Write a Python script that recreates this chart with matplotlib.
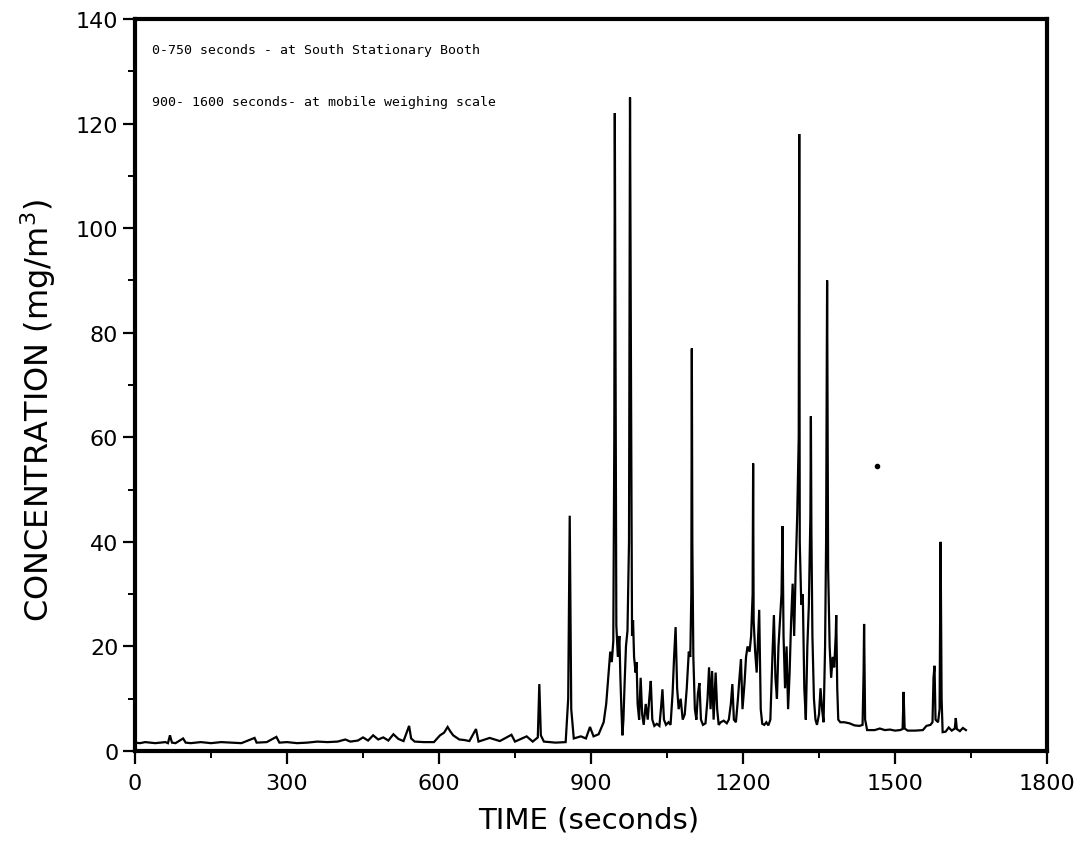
import matplotlib
matplotlib.use("Agg")
import matplotlib.pyplot as plt
from matplotlib.ticker import MultipleLocator

# ---- data (time in s, concentration in mg/m3) ----
time_s = [
    0, 10, 20, 30, 40, 50, 60, 65, 69, 73, 80, 95, 100, 110, 130, 150, 170, 190, 210, 236,
    240, 260, 279, 285, 300, 320, 340, 360, 380, 400, 415, 425, 440, 450, 460, 470, 480, 490,
    500, 510, 520, 530, 541, 545, 552, 570, 590, 602, 610, 617, 622, 628, 640, 650, 660, 673,
    678, 700, 720, 743, 750, 773, 785, 795, 798, 801, 807, 830, 850, 855, 858, 861, 866, 880,
    890, 898, 905, 915, 925, 930, 934, 938, 941, 944, 946, 947, 948, 950, 953, 956, 958, 960,
    962, 964, 966, 969, 972, 975, 977, 979, 981, 983, 985, 988, 990, 992, 995, 998, 1001, 1004,
    1008, 1012, 1015, 1018, 1021, 1025, 1030, 1035, 1038, 1041, 1044, 1048, 1053, 1057, 1061,
    1064, 1067, 1070, 1073, 1077, 1081, 1085, 1089, 1093, 1096, 1098, 1099, 1100, 1102, 1105,
    1108, 1111, 1114, 1117, 1121, 1126, 1130, 1133, 1136, 1139, 1142, 1146, 1149, 1152, 1156,
    1162, 1168, 1172, 1176, 1179, 1182, 1186, 1190, 1193, 1196, 1199, 1203, 1206, 1209, 1213,
    1216, 1219, 1220, 1221, 1224, 1227, 1230, 1232, 1235, 1238, 1242, 1246, 1250, 1254, 1258,
    1261, 1264, 1267, 1270, 1273, 1276, 1278, 1280, 1283, 1286, 1289, 1292, 1295, 1298, 1301,
    1304, 1307, 1310, 1311, 1312, 1315, 1318, 1321, 1324, 1327, 1330, 1333, 1334, 1335, 1337,
    1340, 1343, 1346, 1350, 1353, 1356, 1359, 1362, 1364, 1366, 1368, 1371, 1374, 1377, 1380,
    1383, 1384, 1386, 1388, 1392, 1400, 1410, 1420, 1430, 1436, 1438, 1439, 1441, 1445, 1460,
    1470, 1480, 1490, 1500, 1510, 1515, 1517, 1519, 1525, 1540, 1555, 1562, 1570, 1574, 1576,
    1578, 1580, 1585, 1588, 1590, 1592, 1594, 1600, 1606, 1612, 1618, 1620, 1622, 1628, 1634,
    1640,
]
conc = [
    1.6, 1.5, 1.7, 1.6, 1.5, 1.6, 1.7, 1.5, 3.0, 1.6, 1.5, 2.4, 1.6, 1.5, 1.7, 1.5, 1.7, 1.6, 1.5, 2.5,
    1.6, 1.7, 2.7, 1.6, 1.7, 1.5, 1.6, 1.8, 1.7, 1.8, 2.2, 1.8, 2.0, 2.6, 2.0, 3.0, 2.2, 2.6,
    2.0, 3.2, 2.3, 1.9, 4.8, 2.4, 1.8, 1.7, 1.7, 3.0, 3.5, 4.6, 3.8, 3.0, 2.2, 2.1, 1.9, 4.2,
    1.8, 2.5, 1.9, 3.1, 1.8, 2.8, 1.8, 2.6, 12.8, 3.0, 1.8, 1.6, 1.7, 10, 45, 8, 2.4, 2.8,
    2.4, 4.6, 2.8, 3.2, 5.5, 9, 14, 19, 17, 21, 60, 122, 90, 24, 18, 22, 14, 8,
    3.0, 6, 12, 20, 23, 40, 125, 70, 22, 25, 18, 15, 17, 9, 6, 14, 7, 5,
    9, 6, 10, 13.4, 6, 4.8, 5.2, 4.8, 8, 11.8, 6, 5, 5.5, 5, 11,
    18, 23.7, 12, 8, 10, 6, 7, 12, 19, 18, 30, 77, 40, 18, 8,
    6, 11, 13, 6, 5, 5.3, 10, 16, 8, 15.3, 6, 15, 8, 5, 5.5,
    5.8, 5.3, 6, 9, 12.8, 6, 5.5, 10, 14, 17.5, 8, 13, 18, 20, 19,
    22, 30, 55, 25, 19, 15, 22, 27, 8, 5.2, 5, 5.5, 4.9, 6, 18,
    26, 14, 10, 20, 25, 30, 43, 22, 12, 20, 8, 15, 25, 32, 22,
    35, 45, 60, 118, 40, 28, 30, 12, 6, 20, 28, 45, 64, 42, 22,
    10, 6, 5, 7, 12, 8, 5.5, 20, 40, 90, 35, 20, 14, 18, 16,
    22, 26, 12, 6, 5.5, 5.5, 5.3, 4.9, 4.8, 5.0, 15, 24.3, 6, 4.0, 4.0,
    4.3, 4.0, 4.1, 3.9, 4.0, 4.2, 11.3, 4.3, 3.9, 3.9, 4.0, 4.8, 5.0, 5.5, 14,
    16.3, 6, 5.5, 8, 40, 10, 3.6, 3.7, 4.5, 3.9, 4.3, 6.3, 4.2, 3.8, 4.4,
    4.0,
]
stray_time = [1464]
stray_conc = [54.5]

x_ticks = [0, 300, 600, 900, 1200, 1500, 1800]
y_ticks = [0, 20, 40, 60, 80, 100, 120, 140]
note_lines = ["0-750 seconds - at South Stationary Booth",
              "900- 1600 seconds- at mobile weighing scale"]

W, H = 1080, 845
fig = plt.figure(figsize=(W / 100, H / 100), dpi=100)
ax = fig.add_axes([135 / W, 93 / H, 912 / W, 732 / H])

ax.plot(time_s, conc, color="black", linewidth=1.6, solid_joinstyle="miter")
ax.plot(stray_time, stray_conc, "o", color="black", markersize=3)

ax.set_xlim(0, 1800)
ax.set_ylim(0, 140)
ax.set_xticks(x_ticks)
ax.set_yticks(y_ticks)
ax.set_xticklabels([str(v) for v in x_ticks])
ax.set_yticklabels([str(v) for v in y_ticks])
ax.xaxis.set_minor_locator(MultipleLocator(150))
ax.yaxis.set_minor_locator(MultipleLocator(10))
ax.tick_params(which="major", direction="out", length=9, width=1.6, labelsize=16)
ax.tick_params(axis="x", which="major", pad=7)
ax.tick_params(axis="y", which="major", pad=3)
ax.tick_params(which="minor", direction="out", length=5, width=1.4)
for s in ax.spines.values():
    s.set_linewidth(3)

ax.set_xlabel("TIME (seconds)", fontsize=21)
ax.set_ylabel("CONCENTRATION (mg/m$^3$)", fontsize=23)
ax.xaxis.set_label_coords(0.497, -0.074)
ax.yaxis.set_label_coords(-0.084, 0.467)

ax.text(34, 134.2, note_lines[0], family="DejaVu Sans Mono", fontsize=9.5, va="center", ha="left")
ax.text(34, 124.3, note_lines[1], family="DejaVu Sans Mono", fontsize=9.5, va="center", ha="left")

fig.savefig("out.png", dpi=100, facecolor="white")
